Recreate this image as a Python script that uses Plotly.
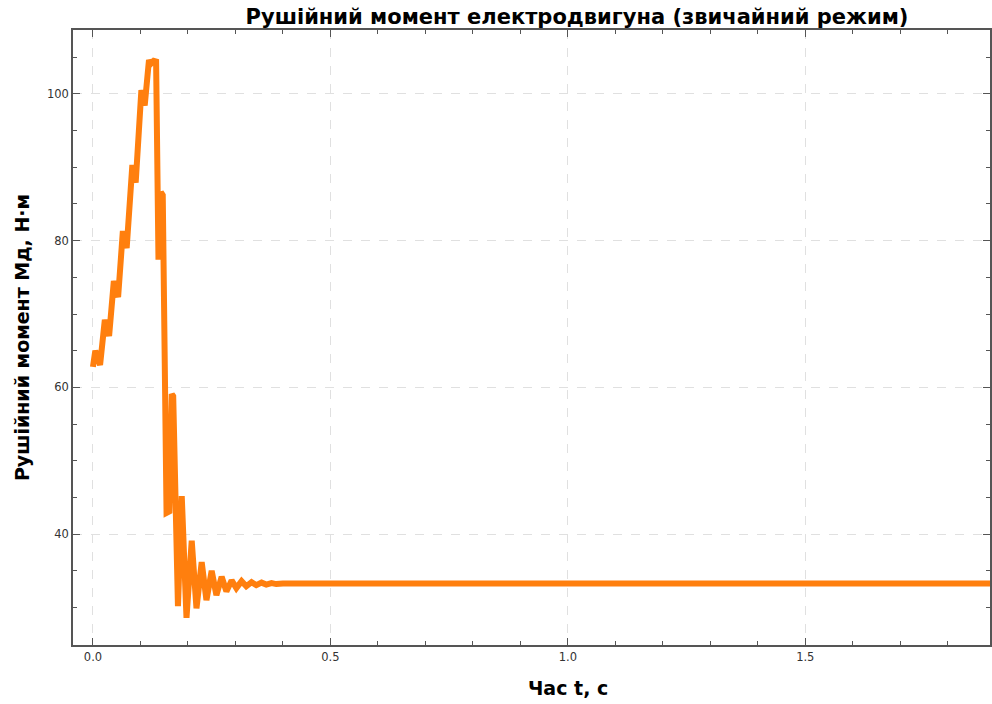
import plotly.graph_objects as go

# time (s) and driving torque (N·m)
t = [0.000, 0.005, 0.015, 0.025, 0.034, 0.044, 0.053, 0.063, 0.071, 0.083, 0.090,
     0.102, 0.109, 0.118, 0.122, 0.128, 0.133, 0.138, 0.143, 0.147, 0.155, 0.161,
     0.166, 0.169, 0.179, 0.187, 0.197, 0.208, 0.218, 0.229, 0.239, 0.250, 0.260,
     0.271, 0.281, 0.292, 0.302, 0.313, 0.323, 0.334, 0.344, 0.355, 0.365, 0.376,
     0.386, 0.400, 0.600, 1.000, 1.500, 2.000]
M = [62.8, 65.0, 63.05, 69.2, 67.0, 74.5, 72.3, 81.3, 79.0, 90.3, 87.9,
     100.5, 98.4, 104.6, 104.1, 104.5, 104.4, 77.4, 86.6, 86.2, 42.9, 43.1,
     59.1, 58.8, 30.2, 45.2, 28.6, 39.1, 29.9, 36.2, 31.0, 35.0, 31.7,
     34.2, 32.2, 33.7, 32.65, 33.6, 32.9, 33.45, 33.06, 33.4, 33.13, 33.33,
     33.2, 33.28, 33.28, 33.28, 33.28, 33.28]

title = "Рушійний момент електродвигуна (звичайний режим)"
xlabel = "Час t, c"
ylabel = "Рушійний момент Мд, Н·м"
x_ticks = [0.0, 0.5, 1.0, 1.5]
y_ticks = [40, 60, 80, 100]

fig = go.Figure()
fig.add_trace(go.Scatter(x=t, y=M, mode="lines",
                         line=dict(color="#ff7f0e", width=6),
                         showlegend=False))

axis_common = dict(
    showline=True, linecolor="#555555", linewidth=1.5,
    ticks="inside", tickcolor="#555555", ticklen=7, tickwidth=1,
    showgrid=True, gridcolor="#e0e0e0", griddash="dash", gridwidth=1,
    zeroline=False, mirror="ticks",
    tickfont=dict(family="DejaVu Sans", size=11.5, color="#333333"),
)

fig.update_layout(
    width=992, height=704,
    margin=dict(l=73, r=0, t=30, b=59),
    paper_bgcolor="white", plot_bgcolor="white",
    title=dict(text=title, x=577/992, xref="container", xanchor="center",
               y=1 - 17/704, yref="container", yanchor="middle",
               font=dict(family="DejaVu Sans", size=21, color="black", weight="bold")),
    xaxis=dict(range=[-0.042, 1.889], tickvals=x_ticks,
               ticktext=[f"{v:.1f}" for v in x_ticks],
               minor=dict(dtick=0.1, tick0=0, ticks="inside", ticklen=4,
                          tickcolor="#555555", showgrid=False),
               **axis_common),
    yaxis=dict(range=[24.9, 108.7], tickvals=y_ticks,
               minor=dict(dtick=5, tick0=0, ticks="inside", ticklen=4,
                          tickcolor="#555555", showgrid=False),
               title=dict(text=ylabel, standoff=12,
                          font=dict(family="DejaVu Sans", size=19, color="black", weight="bold")),
               **axis_common),
    annotations=[dict(text=xlabel, x=1.0, xref="x", y=-(688 - 645) / 615, yref="paper",
                      xanchor="center", yanchor="middle", showarrow=False,
                      font=dict(family="DejaVu Sans", size=19, color="black", weight="bold"))],
)

fig.write_html("out.html")
